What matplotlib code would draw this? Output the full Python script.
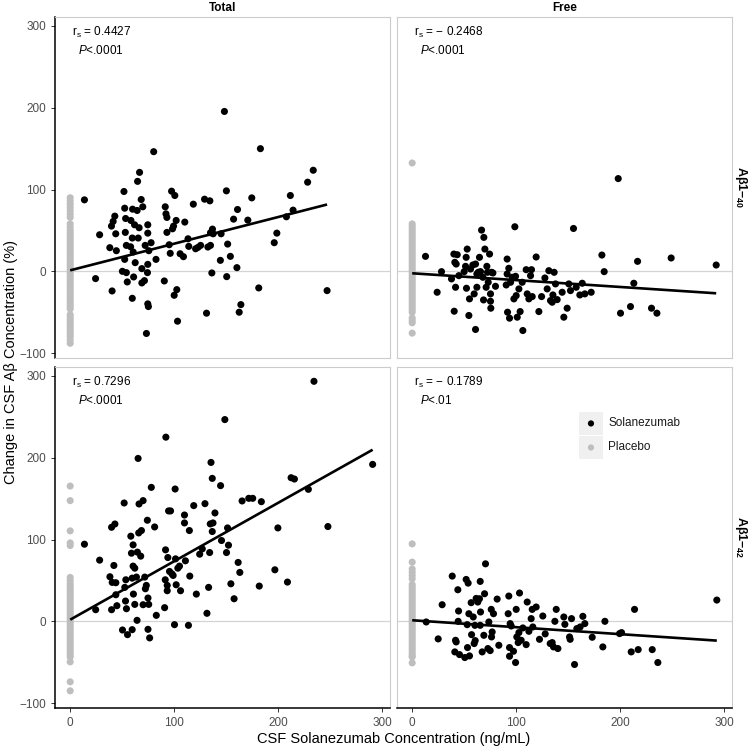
import numpy as np
import matplotlib
matplotlib.use("Agg")
import matplotlib.pyplot as plt
from matplotlib.patches import Rectangle

plt.rcParams['font.family'] = ['Liberation Sans', 'DejaVu Sans']
plt.rcParams['mathtext.fontset'] = 'custom'
plt.rcParams['mathtext.rm'] = 'Liberation Sans'
plt.rcParams['mathtext.it'] = 'Liberation Sans:italic'

## Total / Abeta1-40
tot40_x = [13.7, 28.3, 24.4, 38.1, 40.3, 44.4, 39.7, 41.3, 42.9, 43.8, 51.7, 52.4, 53.3, 53.0, 54.0,
           52.4, 50.2, 54.0, 54.9, 59.7, 61.0, 58.1, 59.7, 58.4, 60.0, 61.9, 64.4, 64.8, 66.7, 62.5,
           60.6, 65.4, 66.3, 68.3, 69.8, 68.9, 68.9, 71.4, 74.6, 75.2, 73.3, 74.3, 74.6, 72.1, 74.6,
           74.6, 77.8, 75.6, 80.3, 82.5, 90.5, 91.4, 92.1, 93.0, 93.0, 95.2, 96.2, 97.5, 100.6, 98.4,
           99.4, 101.9, 100.0, 102.5, 103.2, 105.7, 108.9, 110.2, 113.3, 114.0, 118.4, 120.6, 122.9,
           125.4, 129.2, 134.3, 132.4, 134.9, 136.2, 136.8, 134.9, 137.5, 131.1, 148.3, 150.2, 145.1,
           151.4, 144.4, 154.0, 150.5, 157.1, 160.9, 160.3, 164.1, 162.5, 170.8, 174.6, 182.9, 181.3,
           196.2, 198.7, 207.9, 211.7, 214.3, 228.3, 233.7, 247.0]
tot40_y = [87.4, 44.7, -8.9, 28.9, -24.0, 25.2, 55.3, 61.0, 67.5, 45.9, 97.6, 77.2, 64.6, 47.6, 31.7,
           14.6, 0.0, -1.6, -13.0, -33.0, -6.9, 30.0, 40.7, 62.2, 76.0, 56.9, 74.4, 110.0, 121.0, 10.6,
           23.6, 40.7, 53.3, 87.8, 78.9, 3.3, -14.2, -11.4, -39.8, -43.1, -76.0, -1.6, 8.5, 31.7, 46.7,
           56.9, 35.0, 25.2, 146.3, 14.6, -11.8, 78.9, 70.3, 65.9, 47.6, 32.5, 22.0, 98.0, 92.7, 52.0,
           55.3, 62.2, -29.3, -22.4, -61.0, 21.5, 17.9, 60.2, 39.8, 30.5, 82.1, 27.6, 29.3,
           31.7, 88.2, 86.2, 29.7, 31.7, -2.0, 51.6, 47.2, 45.9, -51.2, 195.5, 98.4, 45.9,
           33.3, 13.4, 18.3, -6.5, 63.8, 75.6, 4.5, -40.7, -50.0, 62.6, 89.8, 150.0, -20.3,
           35.0, 46.7, 66.7, 92.7, 74.8, 109.0, 123.6, -23.6]
tot40_pl = [90, 86, 82, 78, 74, 70, 66, 58, 54, 50, 47, 44, 41, 38, 35, 32, 29, 26, 23, 20, 17, 14, 11,
            8, 5, 2, -1, -4, -7, -10, -13, -16, -19, -22, -25, -28, -31, -34, -37, -40, -43, -46,
            -53, -56, -59, -62, -65, -68, -71, -74, -77, -80, -84, -88]

## Free / Abeta1-40
free40_x = [12.8, 24.0, 28.2, 37.8, 40.1, 41.0, 42.3, 43.3, 41.7, 40.4, 44.9, 50.0, 51.9, 52.9, 51.3,
            52.2, 54.5, 55.1, 56.1, 58.3, 59.6, 60.9, 60.9, 62.2, 62.2, 63.5, 64.7, 65.7, 66.7, 68.0,
            68.9, 69.9, 68.6, 71.1, 71.8, 72.4, 73.1, 74.4, 75.3, 75.3, 75.6, 76.3, 77.6, 80.1, 91.3,
            92.9, 91.3, 90.4, 91.7, 93.6, 94.6, 96.2, 97.8, 98.7, 99.4, 100.0, 101.0, 102.6, 103.8,
            105.8, 106.4, 109.6, 110.6, 112.2, 113.8, 114.7, 115.4, 119.2, 121.8, 124.4, 127.6, 129.8,
            131.4, 133.0, 134.6, 135.3, 136.5, 137.8, 139.4, 144.2, 145.8, 149.0, 150.6, 152.2, 155.1,
            157.7, 161.2, 163.5, 166.0, 172.1, 182.4, 184.6, 198.1, 200.3, 209.9, 213.1, 216.7, 230.1,
            235.3, 249.0, 292.3]
free40_y = [18.3, -25.6, -0.4, -9.3, 21.1, 11.0, 8.9, 20.3, -19.5, -48.8, -5.3, -0.4, 17.1, 27.2, 6.1,
            -20.7, -54.0, -33.7, 2.8, 7.7, -27.6, -71.1, 8.9, -3.3, -19.5, -1.2, 17.1, -0.4, 50.4, -7.3,
            41.5, 27.2, -35.0, -19.5, 6.1, -1.2, -13.4, 21.1, -27.6, -36.6, -45.1, -1.2, -2.0, -18.3, 15.0,
            3.7, -3.3, -16.7, -50.0, -57.3, -13.4, -7.3, -33.7, 54.5, -6.1, -29.7, -56.1, -21.5, -49.2,
            -13.4, -72.4, 2.0, -27.6, -33.7, -5.3, 2.0, -30.9, 17.5, -49.2, -30.9, -8.1, -21.5,
            0.8, -35.8, -37.8, -28.9, -1.2, -15.4, -34.6, -25.6, -56.1, -45.1, -15.4, -23.6, 52.4,
            -19.5, -28.9, -14.6, -27.6, -25.6, 19.9, -0.4, 113.4, -51.2, -43.1, -14.6, 12.2, -45.1,
            -51.2, 16.3, 7.7]
free40_pl = [132.5, 58, 55, 52, 49, 46, 43, 40, 37, 34, 31, 28, 25, 22, 19, 16, 13, 10, 7, 4, 1, -2,
             -5, -8, -11, -14, -17, -20, -23, -26, -29, -32, -35, -38, -41, -44, -47, -50,
             -57, -60, -63, -75.6]

## Total / Abeta1-42
tot42_x = [13.7, 24.5, 28.3, 38.2, 39.8, 40.4, 42.0, 43.9, 39.8, 43.0, 43.9, 44.9, 50.3, 51.9, 52.5,
           53.5, 53.2, 54.1, 55.1, 58.3, 59.6, 58.9, 60.5, 60.5, 59.6, 60.8, 62.1, 62.1, 64.3, 63.7,
           65.3, 64.6, 65.9, 67.8, 66.2, 70.1, 68.5, 70.1, 71.7, 72.3, 73.2, 74.2, 74.8, 75.5, 74.8,
           76.4, 78.0, 81.2, 82.8, 90.8, 91.7, 92.0, 91.4, 93.3, 93.3, 93.9, 94.6, 96.5, 95.5, 97.8,
           99.0, 100.9, 100.3, 101.3, 101.9, 103.5, 105.1, 106.1, 109.9, 109.9, 110.8, 113.7, 114.6,
           115.0, 118.8, 121.3, 124.5, 127.0, 129.6, 131.5, 133.1, 134.1, 135.4, 134.7, 136.6, 136.6,
           137.3, 139.2, 144.6, 145.5, 148.7, 150.3, 151.3, 152.2, 154.5, 157.6, 161.5, 163.1, 165.3,
           171.7, 175.5, 181.8, 183.8, 196.8, 199.7, 208.9, 212.4, 215.6, 229.0, 234.4, 247.8, 290.8]
tot42_y = [94.3, 14.2, 74.8, 54.5, 14.2, 47.6, 68.3, 47.2, 115.0, 119.0, 32.5, 19.1, -10.6, 144.7, 41.5,
           50.8, 24.8, 15.4, -16.3, 104.1, -10.2, 83.3, 93.5, 67.5, 52.8, 33.3, 65.0, 20.7, 1.2, 54.1,
           199.2, 84.6, 108.1, 79.7, 143.5, 147.6, 111.0, 20.3, 54.1, 39.8, 43.9, 123.6, 28.5, 20.7, -9.8,
           -20.3, 163.8, 115.4, 7.3, 16.7, 87.4, 225.2, 50.8, 43.9, 37.4, 78.0, 135.0, 135.0, 61.0, 58.1,
           56.1, 161.8, -4.1, 76.4, 44.7, 65.0, 67.5, 37.4, 130.0, 120.3, 74.0, -4.9, 111.0,
           55.3, 141.5, 33.3, 82.1, 88.6, 143.9, 9.8, 41.5, 84.1, 194.3, 119.1, 174.8, 109.8,
           120.3, 132.5, 165.9, 98.8, 246.7, 84.1, 114.2, 93.1, 45.9, 27.6, 72.0, 59.8, 147.2,
           150.4, 150.4, 43.1, 146.3, 63.0, 114.2, 48.0, 175.6, 174.0, 161.4, 293.5, 115.9, 191.9]
tot42_pl = [165.4, 147.6, 110.6, 95.9, 92.7, 53.7, 50, 46, 43, 40, 37, 34, 31, 28, 25, 22, 19, 16, 13, 10,
            7, 4, 1, -2, -5, -8, -11, -14, -17, -20, -23, -26, -29, -32, -35, -38, -41, -43.5,
            -49.6, -74, -85]

## Free / Abeta1-42
free42_x = [13.5, 25.0, 28.8, 38.5, 41.7, 42.3, 41.0, 43.9, 44.6, 44.2, 45.5, 50.6, 51.9, 53.2, 52.9,
            53.8, 54.5, 55.1, 56.7, 57.1, 58.7, 59.6, 60.6, 60.3, 61.5, 63.1, 64.7, 65.4, 65.7, 65.4,
            67.3, 69.6, 70.5, 68.9, 72.8, 73.7, 75.0, 76.0, 76.3, 76.9, 78.2, 81.7, 83.3, 92.9, 92.3,
            93.6, 94.2, 95.2, 93.6, 97.4, 99.4, 100.0, 100.6, 101.9, 102.6, 103.2, 104.8, 106.4, 109.6,
            110.6, 112.2, 114.4, 115.4, 116.0, 119.2, 122.4, 125.6, 127.9, 132.7, 134.6, 135.9, 137.2,
            138.5, 140.1, 145.8, 146.8, 151.3, 151.9, 153.2, 156.1, 158.3, 161.5, 164.1, 166.0, 173.1,
            183.3, 185.3, 199.4, 201.3, 210.6, 213.8, 217.3, 230.8, 236.2, 292.9]
free42_y = [-0.8, -21.5, 20.3, 55.3, -23.2, -25.2, -37.4, 38.6, 12.6, 0.0, -40.7, -44.3, 51.2, -32.1, -4.1,
            46.7, 9.3, -42.3, 22.8, -16.3, 5.3, -27.2, -23.6, -4.9, 28.0, 23.6, 27.6, 48.8, 11.4, -4.9,
            -37.4, 33.7, 70.3, -17.1, -33.3, -0.8, -35.8, 14.6, -19.1, -13.0, 9.3, 27.2, -29.3, 30.9, 9.3,
            -32.1, -2.8, -5.7, -42.7, -36.6, -50.4, 14.6, -19.1, -26.0, -13.8, 34.6, -23.2, -8.1, -28.5,
            23.6, -12.2, 3.3, 14.6, -6.9, 17.5, -22.0, 6.5, -15.4, -27.2, -26.0, -31.3, 0.0,
            14.6, -33.3, 5.3, -3.7, -19.1, -22.0, 3.3, -52.8, -8.9, -6.9, 6.1, -2.8, -19.5,
            -31.3, 0.0, -15.0, -13.8, -37.4, 14.6, -34.6, -34.6, -50.4, 26.0]
free42_pl = [94.7, 72.4, 64, 60, 56, 52, 45, 42, 39, 36, 33, 30, 27, 24, 21, 18, 15, 12, 9, 6, 3, 0,
             -3, -6, -9, -12, -15, -18, -21, -24, -27, -30, -33, -36, -39, -42, -43.5, -50.8]

# fitted lines: (intercept, slope)
fit_coef = [(1.2, 0.326), (-2.4, -0.0837), (2.0, 0.7146), (1.3, -0.085)]
rs_labels = ['0.4427', '\u2212 0.2468', '0.7296', '\u2212 0.1789']
p_labels = ['<.0001', '<.0001', '<.0001', '<.01']
col_labels = ['Total', 'Free']
row_labels = ['A\u03b21\u2013$_{\\mathregular{40}}$', 'A\u03b21\u2013$_{\\mathregular{42}}$']
leg_labels = ['Solanezumab', 'Placebo']
leg_colors = ['black', '#bebebe']

panels = [(tot40_x, tot40_y, tot40_pl), (free40_x, free40_y, free40_pl),
          (tot42_x, tot42_y, tot42_pl), (free42_x, free42_y, free42_pl)]

W, H = 749.0, 748.0
fig = plt.figure(figsize=(7.49, 7.48), dpi=100)
lefts = [55, 397]
tops = [17, 367]
pw, ph = 335, 341

for k in range(4):
	r, c = k // 2, k % 2
	ax = fig.add_axes([lefts[c]/W, 1 - (tops[r]+ph)/H, pw/W, ph/H])
	xs, ys, pl = panels[k]
	ax.axhline(0, color='#d4d4d4', lw=0.9, zorder=1)
	ax.scatter(np.zeros(len(pl)), pl, s=26, color='#bebebe', edgecolors='none', zorder=2)
	ax.scatter(xs, ys, s=26, color='black', edgecolors='none', zorder=3)
	b0, b1 = fit_coef[k]
	xl = np.array([0, max(xs)])
	ax.plot(xl, b0 + b1*xl, color='black', lw=1.9, zorder=4, solid_capstyle='butt')
	ax.set_xticks([0, 100, 200, 300])
	ax.set_yticks([-100, 0, 100, 200, 300])
	for s in ax.spines.values():
		s.set_color('#cccccc')
		s.set_linewidth(0.8)
	ax.tick_params(colors='#333333', labelcolor='#4d4d4d', labelsize=8.5, length=3, width=0.7)
	if c == 0:
		ax.spines['left'].set_color('black')
		ax.spines['left'].set_linewidth(1.1)
	else:
		ax.tick_params(axis='y', left=False, labelleft=False)
	if r == 1:
		ax.spines['bottom'].set_color('black')
		ax.spines['bottom'].set_linewidth(1.1)
	else:
		ax.tick_params(axis='x', bottom=False, labelbottom=False)
	ax.text(0.05, 0.955, 'r$_\\mathregular{s}$ = ' + rs_labels[k], transform=ax.transAxes,
		fontsize=8.5, va='center', ha='left')
	ax.text(0.07, 0.902, '$\\mathit{P}$' + p_labels[k], transform=ax.transAxes,
		fontsize=8.5, va='center', ha='left')
	if r == 0:
		ax.set_title(col_labels[c], fontsize=8.5, fontweight='bold', pad=4)
	if c == 1:
		ax.text(1.027, 0.5, row_labels[r], transform=ax.transAxes, rotation=-90,
			fontsize=9, fontweight='bold', va='center', ha='center')
	if k == 3:
		# legend with grey key boxes, ggplot style
		for i in range(2):
			y0 = 0.801 - i*0.0705
			ax.add_patch(Rectangle((0.543, y0), 0.072, 0.067, transform=ax.transAxes,
				facecolor='#f0f0f0', edgecolor='none', zorder=5))
			ax.scatter([0.579], [y0 + 0.0335], transform=ax.transAxes, s=20,
				color=leg_colors[i], edgecolors='none', zorder=6)
			ax.text(0.631, y0 + 0.0335, leg_labels[i], transform=ax.transAxes,
				fontsize=8.5, va='center', ha='left', color='#1a1a1a')
	ax.set_xlim(-14.6, 307.5)
	ax.set_ylim(-106, 311)

fig.text(11/W, 1 - 362/H, 'Change in CSF A\u03b2 Concentration (%)', rotation=90,
	fontsize=10.5, va='center', ha='center')
fig.text(394/W, 1 - 739/H, 'CSF Solanezumab Concentration (ng/mL)',
	fontsize=10.5, va='center', ha='center')

fig.savefig('out.png', dpi=100)
